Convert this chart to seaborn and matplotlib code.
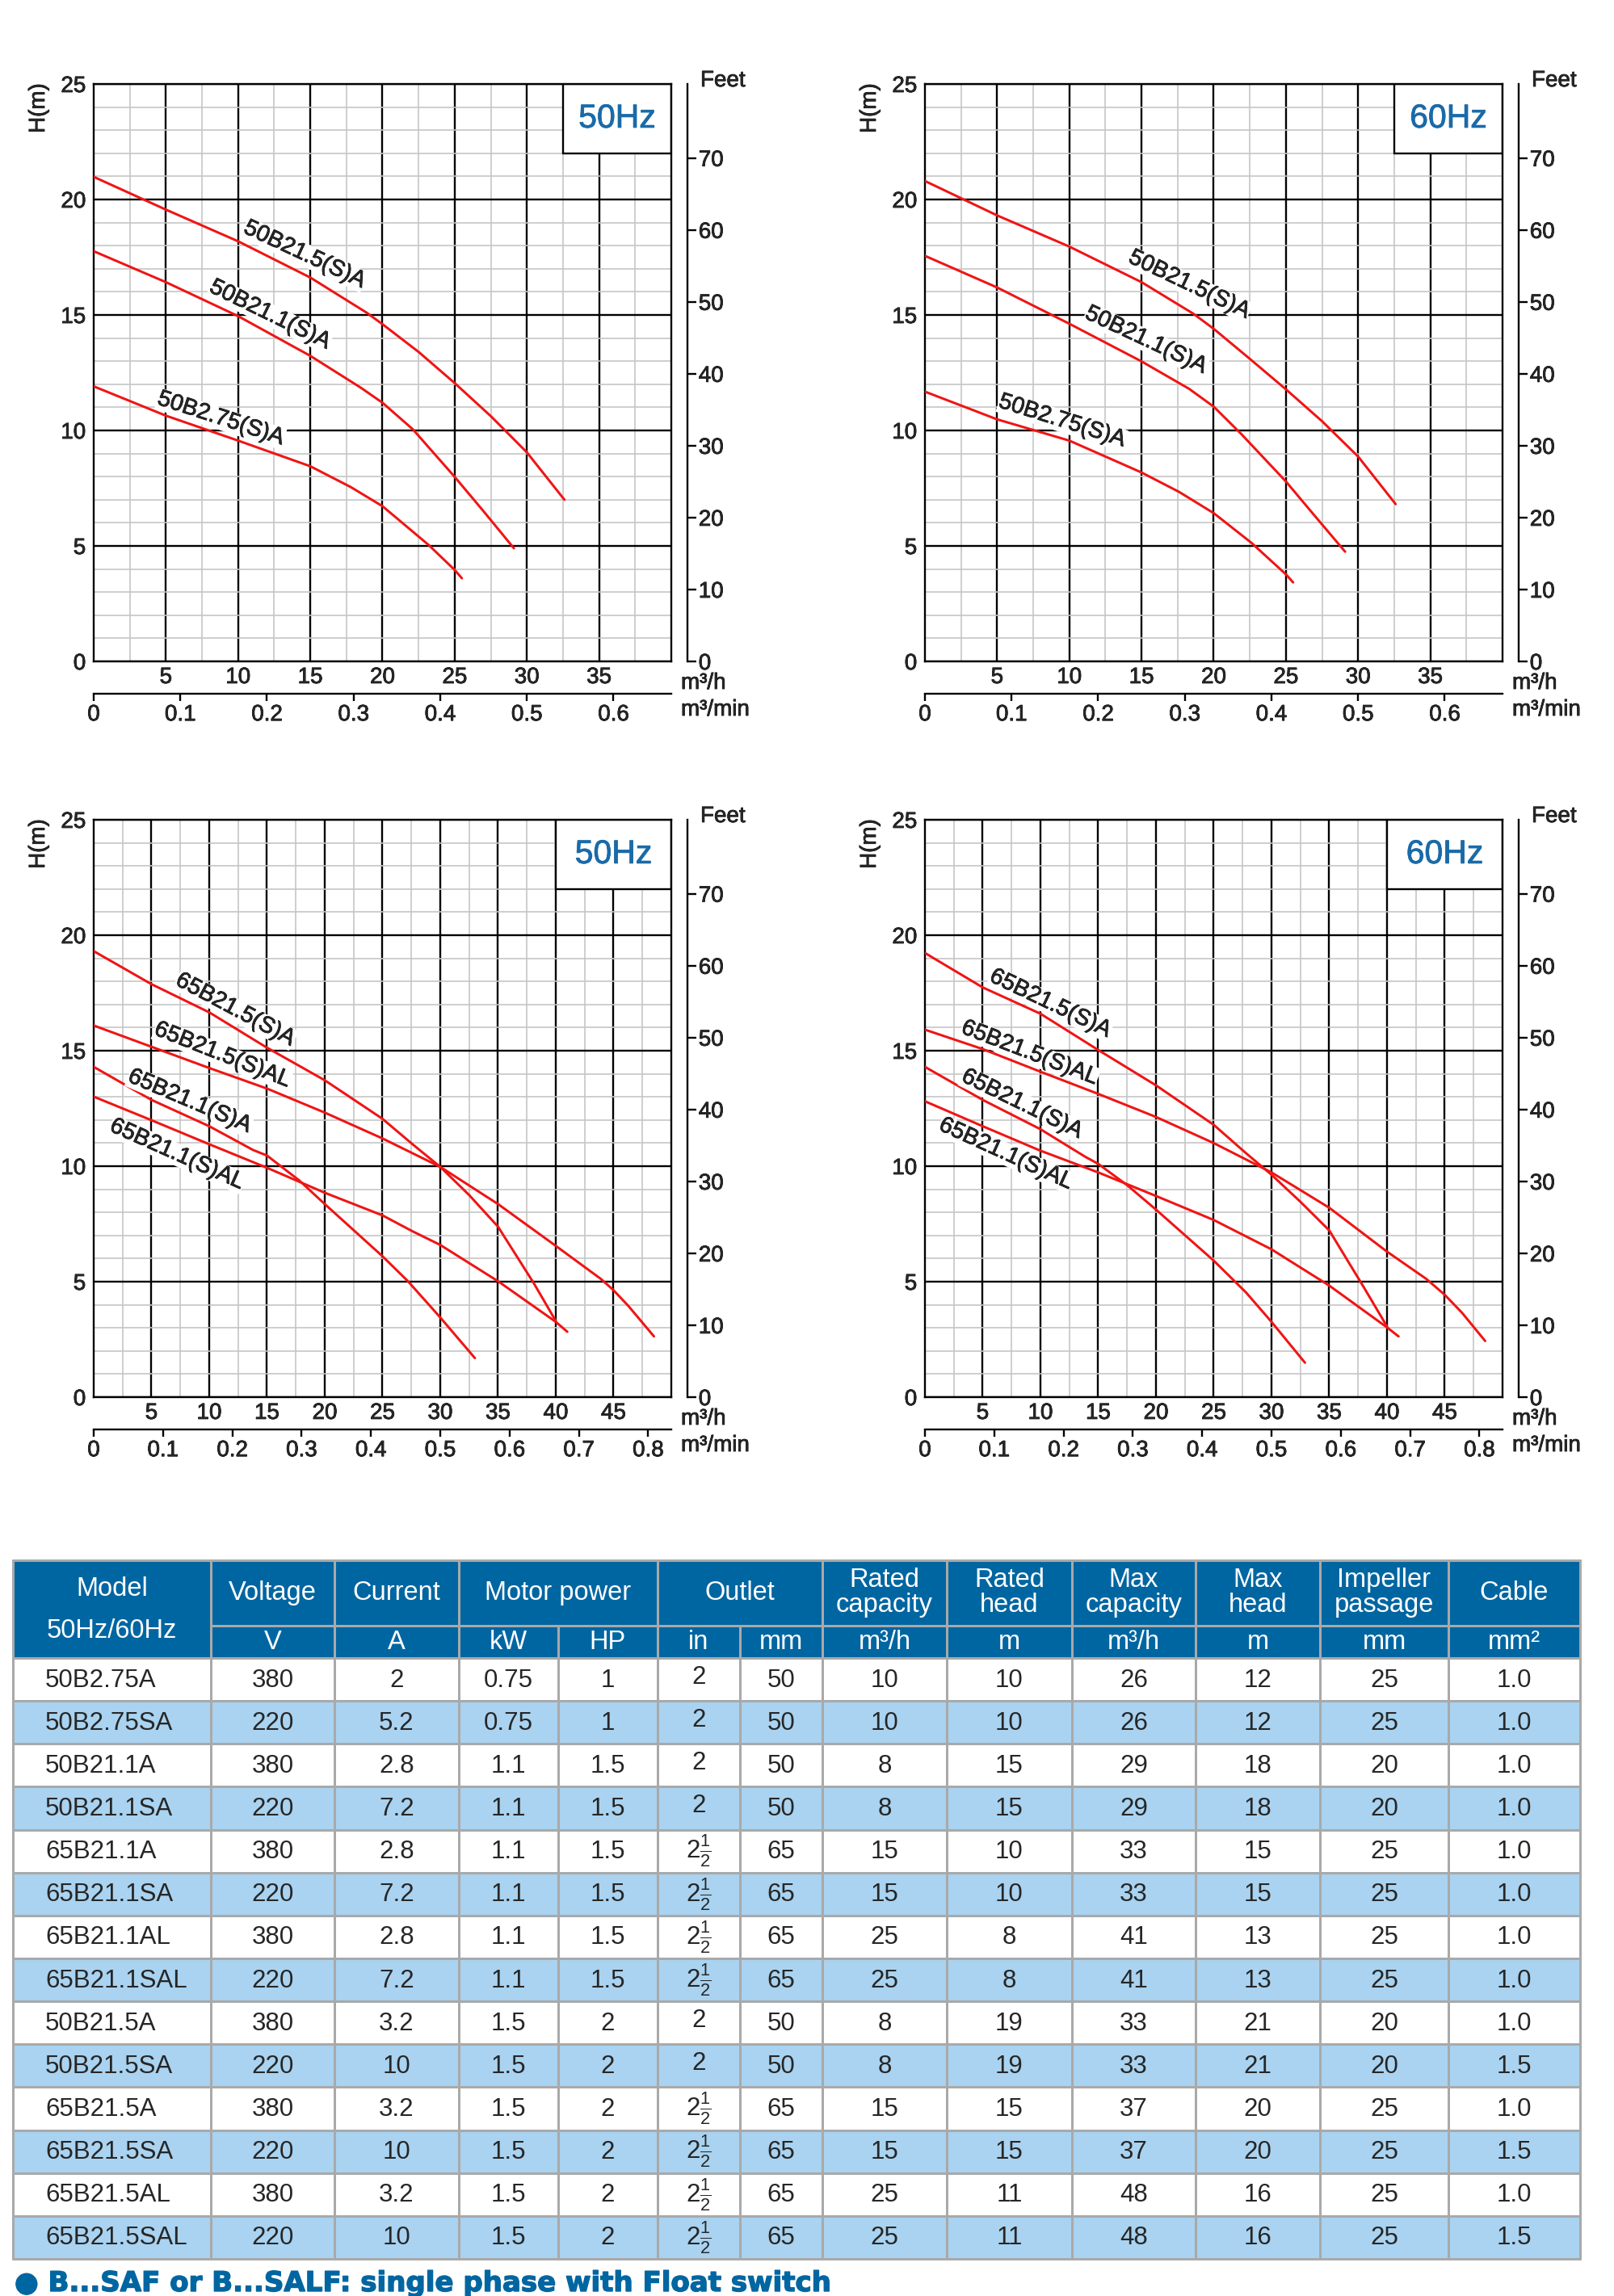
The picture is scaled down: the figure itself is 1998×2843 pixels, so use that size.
import numpy as np
import matplotlib
matplotlib.use("Agg")
import matplotlib.pyplot as plt
import matplotlib.patheffects as pe
import seaborn as sns
from matplotlib.patches import Rectangle

# ---- curve data (Q in m3/h, H in m) ----
# 50B series, 50Hz
q_50b215_50 = [0, 5, 10, 15, 18.9, 20, 22.5, 25, 27.5, 30, 32.6]
h_50b215_50 = [20.98, 19.56, 18.19, 16.62, 15.1, 14.6, 13.4, 12.05, 10.62, 9.05, 7.0]
q_50b211_50 = [0, 5, 10, 15, 18.5, 20, 22.1, 25, 27, 29.1]
h_50b211_50 = [17.76, 16.42, 14.95, 13.23, 11.85, 11.2, 10.05, 7.99, 6.5, 4.9]
q_50b275_50 = [0, 5, 10, 15, 17.8, 20, 23.2, 25, 25.5]
h_50b275_50 = [11.91, 10.64, 9.56, 8.45, 7.55, 6.72, 5.04, 3.96, 3.6]
# 50B series, 60Hz
q_50b215_60 = [0, 5, 10, 15, 18.6, 20, 22.5, 25, 27.5, 30, 32.6]
h_50b215_60 = [20.8, 19.31, 17.96, 16.42, 15.05, 14.4, 13.1, 11.78, 10.4, 8.87, 6.81]
q_50b211_60 = [0, 5, 10, 15, 18.3, 20, 21.9, 25, 27, 29.1]
h_50b211_60 = [17.56, 16.19, 14.62, 12.99, 11.8, 11.03, 9.85, 7.79, 6.3, 4.75]
q_50b275_60 = [0, 5, 10, 15, 17.6, 20, 22.6, 25, 25.5]
h_50b275_60 = [11.68, 10.48, 9.56, 8.18, 7.34, 6.42, 5.14, 3.77, 3.42]
# 65B series, 50Hz
q_65b215a_50 = [0, 5, 10, 15, 20, 25, 27.6, 30, 32.5, 35, 38.1, 40]
h_65b215a_50 = [19.31, 17.88, 16.66, 15.13, 13.72, 12.05, 10.95, 9.97, 8.75, 7.38, 4.93, 3.3]
q_65b215al_50 = [0, 5, 10, 15, 20, 25, 30, 35, 40, 43.9, 45, 46.3, 48.5]
h_65b215al_50 = [16.09, 15.17, 14.25, 13.36, 12.32, 11.2, 9.97, 8.36, 6.55, 5.12, 4.63, 3.94, 2.63]
q_65b211a_50 = [0, 5, 10, 13.8, 15, 17.8, 20, 25, 27.2, 30, 33]
h_65b211a_50 = [14.3, 12.87, 11.73, 10.7, 10.46, 9.38, 8.36, 6.1, 5.02, 3.45, 1.69]
q_65b211al_50 = [0, 5, 10, 15, 20, 25, 27.6, 30, 35, 40, 41]
h_65b211al_50 = [13.01, 11.99, 10.95, 9.93, 8.85, 7.87, 7.18, 6.59, 5.02, 3.26, 2.83]
# 65B series, 60Hz
q_65b215a_60 = [0, 5, 10, 15, 20, 25, 27.8, 30, 32.5, 35, 38, 40]
h_65b215a_60 = [19.23, 17.74, 16.6, 15.03, 13.5, 11.79, 10.56, 9.63, 8.46, 7.22, 4.75, 3.06]
q_65b215al_60 = [0, 5, 10, 15, 20, 25, 30, 35, 40, 43.4, 45, 46.5, 48.5]
h_65b215al_60 = [15.91, 15.07, 14.09, 13.13, 12.13, 11.0, 9.73, 8.2, 6.3, 5.12, 4.43, 3.65, 2.43]
q_65b211a_60 = [0, 5, 10, 13.9, 15, 17.5, 20, 25, 27.8, 30, 32.9]
h_65b211a_60 = [14.3, 12.87, 11.6, 10.4, 10.1, 9.18, 8.12, 5.91, 4.53, 3.26, 1.49]
q_65b211al_60 = [0, 5, 10, 15, 20, 25, 30, 35, 40, 41]
h_65b211al_60 = [12.81, 11.73, 10.67, 9.73, 8.71, 7.67, 6.4, 4.83, 3.02, 2.63]

labels_50b = ["50B21.5(S)A", "50B21.1(S)A", "50B2.75(S)A"]
labels_65b = ["65B21.5(S)A", "65B21.5(S)AL", "65B21.1(S)A", "65B21.1(S)AL"]
feet_ticks = [0, 10, 20, 30, 40, 50, 60, 70]

# ---- table data ----
models = ["50B2.75A", "50B2.75SA", "50B21.1A", "50B21.1SA", "65B21.1A", "65B21.1SA",
          "65B21.1AL", "65B21.1SAL", "50B21.5A", "50B21.5SA", "65B21.5A", "65B21.5SA",
          "65B21.5AL", "65B21.5SAL"]
voltage = ["380", "220"] * 7
current = ["2", "5.2", "2.8", "7.2", "2.8", "7.2", "2.8", "7.2", "3.2", "10", "3.2", "10", "3.2", "10"]
power_kw = ["0.75", "0.75"] + ["1.1"] * 6 + ["1.5"] * 6
power_hp = ["1", "1"] + ["1.5"] * 6 + ["2"] * 6
outlet_in = ["2"] * 4 + ["2½"] * 4 + ["2"] * 2 + ["2½"] * 4
outlet_mm = ["50"] * 4 + ["65"] * 4 + ["50"] * 2 + ["65"] * 4
rated_cap = ["10", "10", "8", "8", "15", "15", "25", "25", "8", "8", "15", "15", "25", "25"]
rated_head = ["10", "10", "15", "15", "10", "10", "8", "8", "19", "19", "15", "15", "11", "11"]
max_cap = ["26", "26", "29", "29", "33", "33", "41", "41", "33", "33", "37", "37", "48", "48"]
max_head = ["12", "12", "18", "18", "15", "15", "13", "13", "21", "21", "20", "20", "16", "16"]
impeller = ["25", "25", "20", "20", "25", "25", "25", "25", "20", "20", "25", "25", "25", "25"]
cable = ["1.0"] * 9 + ["1.5", "1.0", "1.5", "1.0", "1.5"]

header_top = ["Voltage", "Current", "Motor power", "Outlet", "Rated\ncapacity", "Rated\nhead",
              "Max\ncapacity", "Max\nhead", "Impeller\npassage", "Cable"]
header_span = [1, 1, 2, 2, 1, 1, 1, 1, 1, 1]
header_units = ["V", "A", "kW", "HP", "in", "mm", "m³/h", "m", "m³/h", "m", "mm", "mm²"]
note = "● B...SAF or B...SALF: single phase with Float switch"

# ---- style ----
W, H, DPI = 1999, 2843, 100
PT = 72.0 / DPI
RED = "#f01414"
BLUE = "#1a6aa8"
HEAD_BLUE = "#0066a1"
ROW_BLUE = "#a9d3f0"
GRID_GRAY = "#a9a9a9"
FX = [pe.withStroke(linewidth=0.55, foreground="black")]

sns.set_style("white")
plt.rcParams["font.family"] = ["Liberation Sans", "DejaVu Sans"]
plt.rcParams["mathtext.fontset"] = "custom"
plt.rcParams["mathtext.rm"] = "Liberation Sans"
plt.rcParams["mathtext.it"] = "Liberation Sans:italic"
plt.rcParams["mathtext.bf"] = "Liberation Sans:bold"

fig = plt.figure(figsize=(W / DPI, H / DPI), dpi=DPI)
fig.patch.set_facecolor("white")
tick_axes = []


def px_axes(x0, y0, w, h):
    return fig.add_axes([x0 / W, 1 - (y0 + h) / H, w / W, h / H])


def ftext(x, y, s, **kw):
    return fig.text(x / W, 1 - y / H, s, **kw)


def draw_panel(ox, oy, xmax, box_left, hz, curves, labels, label_pos):
    ax = px_axes(ox, oy, 715, 715)
    for q, h in curves:
        sns.lineplot(x=q, y=h, ax=ax, color=RED, lw=3 * PT, sort=False,
                     estimator=None, zorder=3)
    ax.set_xlim(0, xmax)
    ax.set_ylim(0, 25)
    xt = list(range(5, xmax, 5))
    ax.set_xticks(xt)
    ax.set_xticklabels([str(v) for v in xt])
    ax.set_xticks(np.arange(0, xmax + 0.1, 2.5), minor=True)
    ax.set_yticks([0, 5, 10, 15, 20, 25])
    ax.set_yticklabels(["0", "5", "10", "15", "20", "25"])
    ax.set_yticks(np.arange(0, 26, 1), minor=True)
    ax.set_axisbelow(True)
    ax.grid(which="minor", color="#c6c6c6", lw=1.2)
    ax.grid(which="major", color="black", lw=1.7)
    ax.tick_params(axis="both", which="both", length=0, labelsize=20)
    ax.tick_params(axis="x", pad=5)
    ax.tick_params(axis="y", pad=7)
    for sp in ax.spines.values():
        sp.set_color("black")
        sp.set_linewidth(1.7)
        sp.set_visible(True)

    # frequency box
    ax.add_patch(Rectangle((box_left, 22), xmax - box_left, 3, facecolor="white",
                           edgecolor="black", lw=1.7, zorder=2))
    ax.text((box_left + xmax) / 2, 23.5, hz, ha="center", va="center",
            color=BLUE, fontsize=29.5, zorder=5,
            path_effects=[pe.withStroke(linewidth=0.6, foreground=BLUE)])

    for s, (lx, ly, rot) in zip(labels, label_pos):
        ax.text(lx, ly, s, ha="center", va="center", rotation=-rot,
                rotation_mode="anchor", fontsize=20.5, zorder=4, path_effects=FX,
                bbox=dict(facecolor="white", edgecolor="none", pad=0.5))

    # feet axis (scale as drawn in the original sheet)
    tw = ax.twinx()
    tw.grid(False)
    tw.set_ylim(0, 80.3)
    tw.set_yticks(feet_ticks)
    tw.set_yticklabels([str(v) for v in feet_ticks])
    for k in ["top", "left", "bottom"]:
        tw.spines[k].set_visible(False)
    tw.spines["right"].set_position(("outward", 20 * PT))
    tw.spines["right"].set_color("black")
    tw.spines["right"].set_linewidth(1.7)
    tw.tick_params(axis="y", direction="out", length=11 * PT, width=1.7,
                   labelsize=20, pad=2, color="black")

    # m3/min axis
    sec = ax.secondary_xaxis(-40 / 715, functions=(lambda x: x / 60.0, lambda x: x * 60.0))
    mt = np.round(np.arange(0, xmax / 60.0, 0.1), 1)
    sec.set_xticks(mt)
    sec.set_xticklabels(["0"] + ["%.1f" % v for v in mt[1:]])
    sec.spines["bottom"].set_color("black")
    sec.spines["bottom"].set_linewidth(1.7)
    sec.tick_params(axis="x", direction="out", length=9 * PT, width=1.7,
                    labelsize=20, pad=3, color="black")
    tick_axes.extend([ax, tw, sec])

    ftext(ox - 68, oy + 30, "H(m)", rotation=90, ha="center", va="center", fontsize=20,
          path_effects=FX)
    ftext(ox + 751, oy - 4, "Feet", ha="left", va="center", fontsize=20, path_effects=FX)
    ftext(ox + 727, oy + 742, "m³/h", ha="left", va="center", fontsize=20, path_effects=FX)
    ftext(ox + 727, oy + 775, "m³/min", ha="left", va="center", fontsize=20, path_effects=FX)
    return ax


curves_50b_50 = [(q_50b215_50, h_50b215_50), (q_50b211_50, h_50b211_50), (q_50b275_50, h_50b275_50)]
curves_50b_60 = [(q_50b215_60, h_50b215_60), (q_50b211_60, h_50b211_60), (q_50b275_60, h_50b275_60)]
curves_65b_50 = [(q_65b215a_50, h_65b215a_50), (q_65b215al_50, h_65b215al_50),
                 (q_65b211a_50, h_65b211a_50), (q_65b211al_50, h_65b211al_50)]
curves_65b_60 = [(q_65b215a_60, h_65b215a_60), (q_65b215al_60, h_65b215al_60),
                 (q_65b211a_60, h_65b211a_60), (q_65b211al_60, h_65b211al_60)]

draw_panel(116, 104, 40, 32.5, "50Hz", curves_50b_50, labels_50b,
           [(14.6, 17.6, 25), (12.2, 15.0, 26), (8.8, 10.5, 18)])
draw_panel(1145, 104, 40, 32.5, "60Hz", curves_50b_60, labels_50b,
           [(18.3, 16.3, 25.5), (15.3, 13.9, 25), (9.5, 10.4, 17.5)])
draw_panel(116, 1015, 50, 40, "50Hz", curves_65b_50, labels_65b,
           [(12.25, 16.76, 28), (11.14, 14.8, 21.5), (8.3, 12.8, 23), (7.2, 10.5, 24)])
draw_panel(1145, 1015, 50, 40, "60Hz", curves_65b_60, labels_65b,
           [(10.85, 17.03, 25.5), (9.06, 14.89, 21), (8.4, 12.68, 26), (7.0, 10.52, 24.5)])

# ---- table ----
tax = px_axes(0, 1900, W, H - 1900)
tax.set_xlim(0, W)
tax.set_ylim(H, 1900)
tax.axis("off")

col_edges = [16, 261, 414, 568, 691, 814, 916, 1018, 1172, 1327, 1480, 1634, 1793, 1956]
top, mid, hbot = 1932, 2013, 2053
row_h = (2797 - hbot) / len(models)
bottom = hbot + row_h * len(models)
left, right = col_edges[0], col_edges[-1]
glw = 3 * PT

tax.add_patch(Rectangle((left, top), right - left, hbot - top, facecolor=HEAD_BLUE, lw=0))
for i in range(len(models)):
    y0 = hbot + i * row_h
    tax.add_patch(Rectangle((left, y0), right - left, row_h,
                            facecolor="white" if i % 2 == 0 else ROW_BLUE, lw=0))

# grid lines
tax.plot([left, right], [top, top], color=GRID_GRAY, lw=glw)
tax.plot([col_edges[1], right], [mid, mid], color=GRID_GRAY, lw=glw)
for i in range(len(models) + 1):
    y = hbot + i * row_h
    tax.plot([left, right], [y, y], color=GRID_GRAY, lw=glw)
for k, x in enumerate(col_edges):
    y_start = mid if k in (4, 6) else top
    tax.plot([x, x], [y_start, bottom], color=GRID_GRAY, lw=glw)

# header text
HFS, BFS = 23.5, 22.5
tax.text((col_edges[0] + col_edges[1]) / 2, 1968, "Model", ha="center", va="center",
         color="white", fontsize=HFS)
tax.text((col_edges[0] + col_edges[1]) / 2, 2020, "50Hz/60Hz", ha="center", va="center",
         color="white", fontsize=HFS)
c = 1
for title, span in zip(header_top, header_span):
    xc = (col_edges[c] + col_edges[c + span]) / 2
    tax.text(xc, (top + mid) / 2, title, ha="center", va="center", color="white",
             fontsize=HFS, linespacing=1.0)
    c += span
for k, u in enumerate(header_units):
    xc = (col_edges[k + 1] + col_edges[k + 2]) / 2
    tax.text(xc, (mid + hbot) / 2 + 1, u, ha="center", va="center", color="white", fontsize=HFS)

# body text
columns = [voltage, current, power_kw, power_hp, outlet_in, outlet_mm, rated_cap,
           rated_head, max_cap, max_head, impeller, cable]
for i, m in enumerate(models):
    yc = hbot + (i + 0.5) * row_h
    tax.text(56, yc + 1, m, ha="left", va="center", fontsize=BFS)
    for k, col in enumerate(columns):
        xc = (col_edges[k + 1] + col_edges[k + 2]) / 2
        s = col[i]
        if "½" in s:
            s = r"$\mathregular{%s\frac{1}{2}}$" % s.replace("½", "")
            tax.text(xc, yc, s, ha="center", va="center", fontsize=BFS)
        elif col is outlet_in:
            tax.text(xc, yc - 3, s, ha="center", va="center", fontsize=BFS)
        else:
            tax.text(xc, yc + 1, s, ha="center", va="center", fontsize=BFS)

tax.text(18, 2837, note, ha="left", va="baseline", color=HEAD_BLUE, fontsize=24.5,
         fontweight="bold", family=["DejaVu Sans"],
         path_effects=[pe.withStroke(linewidth=1.0, foreground=HEAD_BLUE)])

# thicken tick labels slightly, like the printed sheet
fig.canvas.draw()
for a in tick_axes:
    for lbl in a.get_xticklabels() + a.get_yticklabels():
        lbl.set_path_effects(FX)

fig.savefig("out.png", dpi=DPI)
